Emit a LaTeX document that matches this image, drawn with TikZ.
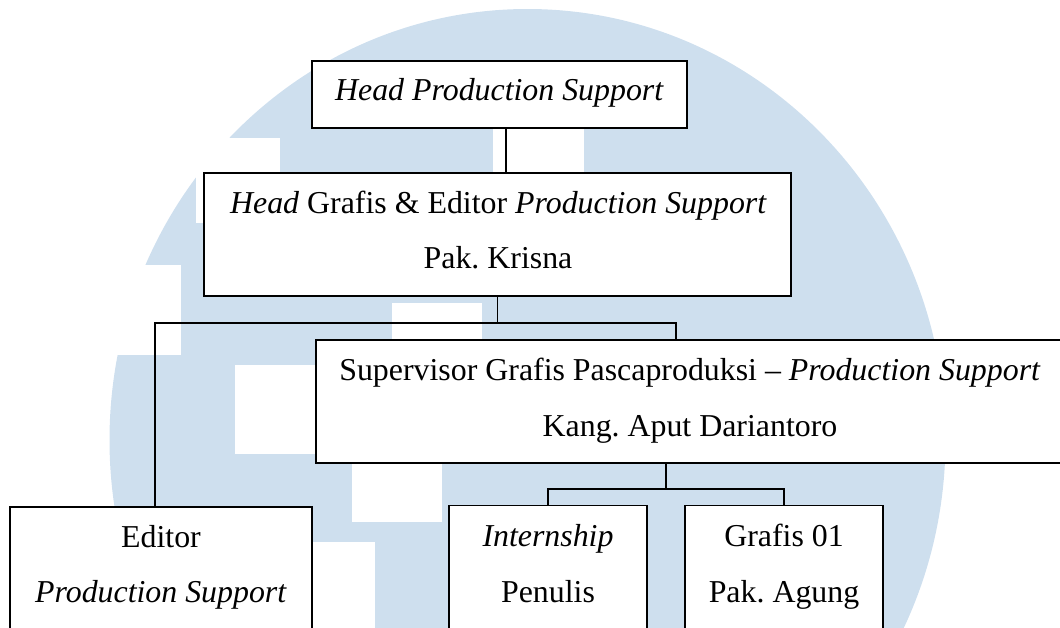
\documentclass[tikz,border=0pt]{standalone}
\usepackage{fontspec}
\setmainfont{Liberation Serif}
\frenchspacing
\definecolor{logoblue}{RGB}{206,223,238}
\tikzset{
  orgbox/.style={draw=black, line width=1.4pt, fill=white, inner sep=0pt},
  lbl/.style={anchor=base, inner sep=0pt, font=\fontsize{23.9}{28}\selectfont},
  conn/.style={draw=black, line width=0.8pt},
  whiteblock/.style={fill=white}
}
\begin{document}
\begin{tikzpicture}[x=0.75pt,y=-0.75pt]
\useasboundingbox (0,0) rectangle (1060,628);
\clip (0,0) rectangle (1060,628);
% background watermark
\fill[logoblue] (527.5,440) ellipse [x radius=418, y radius=431];
\fill[whiteblock] (196,138) rectangle (280,223);
\fill[whiteblock] (90,265) rectangle (181,355);
\fill[whiteblock] (235,365) rectangle (320,454);
\fill[whiteblock] (392,303) rectangle (482,345);
\fill[whiteblock] (352,458) rectangle (442,521.7);
\fill[whiteblock] (312,541.7) rectangle (375,640);
\fill[whiteblock] (493,125) rectangle (584,175);
% boxes
\node[orgbox, minimum width=375*0.75pt, minimum height=67*0.75pt] (b1) at (499.5,94.5) {};
\node[orgbox, minimum width=587*0.75pt, minimum height=123*0.75pt] (b2) at (497.5,234.5) {};
\node[orgbox, minimum width=748*0.75pt, minimum height=123*0.75pt] (b3) at (690,401.5) {};
\node[orgbox, minimum width=302*0.75pt, minimum height=153*0.75pt] (ed) at (161,583.5) {};
\node[orgbox, minimum width=198*0.75pt, minimum height=154*0.75pt] (in) at (548,582.5) {};
\node[orgbox, minimum width=198*0.75pt, minimum height=154*0.75pt] (gr) at (784,582.5) {};
% connector coordinates
\coordinate (c1) at (506,0);
\coordinate (j1) at (497.5,323);
\coordinate (eL) at (155,323);
\coordinate (sR) at (676,323);
\coordinate (j2) at (666,489);
% connectors
\draw[conn] (b1.south -| c1) -- (b2.north -| c1);
\draw[conn] (b2.south) -- (j1);
\draw[conn] (ed.north -| eL) -- (eL) -- (sR) -- (b3.north -| sR);
\draw[conn] (b3.south -| j2) -- (j2);
\draw[conn] (in.north) -- (in.north |- j2) -- (gr.north |- j2) -- (gr.north);
% labels
\node[lbl] (t1) at (499.5,100.5) {\textit{Head Production Support}};
\node[lbl] (t2a) at (498.5,213) {\textit{Head} Grafis \& Editor \textit{Production Support}};
\node[lbl] (t2b) at (498,268.5) {Pak. Krisna};
\node[lbl] (t3a) at (690,380) {Supervisor Grafis Pascaproduksi – \textit{Production Support}};
\node[lbl] (t3b) at (690,436) {Kang. Aput Dariantoro};
\node[lbl] (t4a) at (161,547) {Editor};
\node[lbl] (t4b) at (161,602) {\textit{Production Support}};
\node[lbl] (t5a) at (548,546) {\textit{Internship}};
\node[lbl] (t5b) at (548,602) {Penulis};
\node[lbl] (t6a) at (784,546) {Grafis 01};
\node[lbl] (t6b) at (784,602) {Pak. Agung};
\end{tikzpicture}
\end{document}
